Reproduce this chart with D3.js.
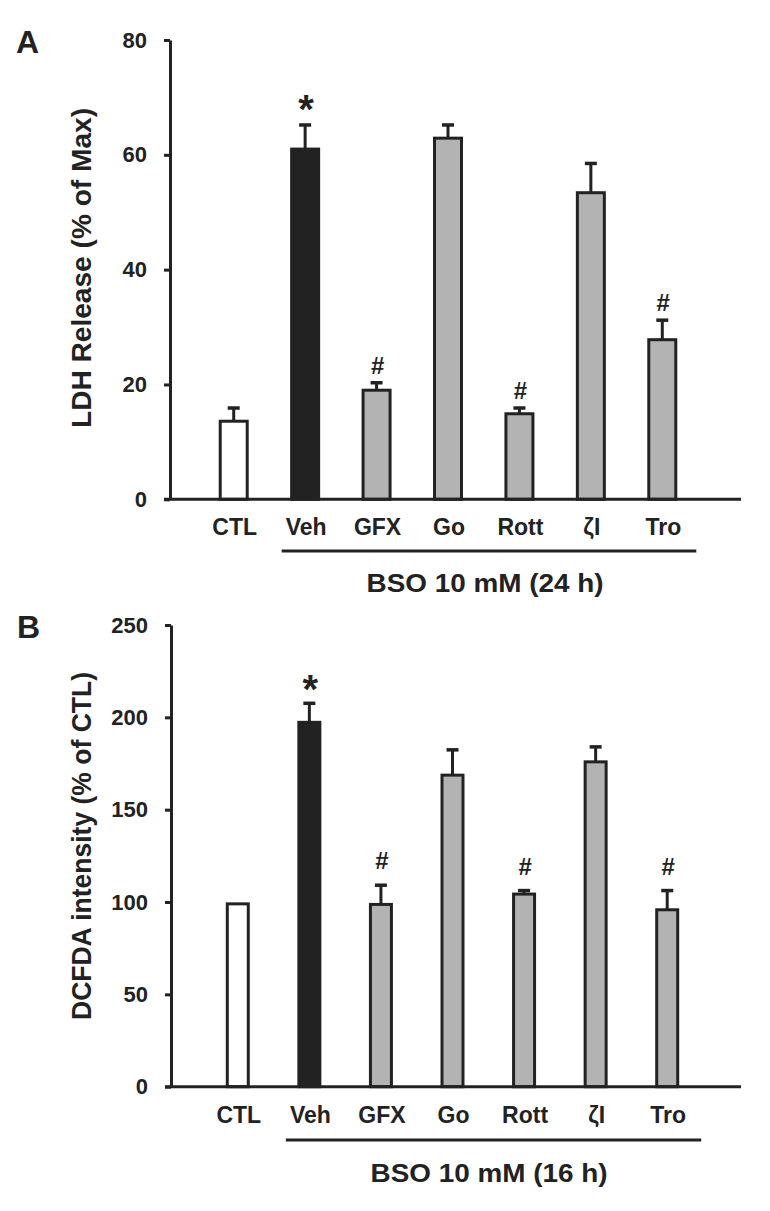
<!DOCTYPE html>
<html>
<head>
<meta charset="utf-8">
<script src="https://cdn.jsdelivr.net/npm/d3@7"></script>
<style>
    body { margin: 0; background: #fff; }
    svg { display: block; }
    text { font-family: "Liberation Sans", Arial, Helvetica, sans-serif; font-weight: bold; fill: #222; }
</style>
</head>
<body>
<div id="chart"></div>
<script>
/* === BSO panels: LDH release (A) and DCFDA intensity (B) === */

var categories = ['CTL', 'Veh', 'GFX', 'Go', 'Rott', 'ζI', 'Tro'];

// Panel A: LDH release, % of max
var ldhMean = [13.6, 61.0, 19.0, 62.9, 14.9, 53.4, 27.8];
var ldhErr = [2.3, 4.2, 1.3, 2.3, 1.0, 5.1, 3.4];
var ldhMarks = ['', '*', '#', '', '#', '', '#'];
var ldhTicks = [0, 20, 40, 60, 80];

// Panel B: DCFDA intensity, % of CTL
var dcfMean = [99, 197.3, 98.7, 168.7, 104.3, 175.9, 95.8];
var dcfErr = [0, 10.3, 10.4, 13.7, 1.9, 8.1, 10.4];
var dcfMarks = ['', '*', '#', '', '#', '', '#'];
var dcfTicks = [0, 50, 100, 150, 200, 250];

var INK = '#222';

function barFill(cat) {
    if (cat === 'CTL') return '#ffffff';
    if (cat === 'Veh') return '#222222';
    return '#b3b3b3';
}

var svg = d3.select('#chart')
    .append('svg')
    .attr('width', 770)
    .attr('height', 1211);

function drawPanel(cfg) {
    var g = svg.append('g');

    var y = d3.scaleLinear()
        .domain([0, cfg.ticks[cfg.ticks.length - 1]])
        .range([cfg.y0, cfg.yTop]);

    var x = d3.scaleBand()
        .domain(categories)
        .range(cfg.xRange);

    function cx(d) { return x(d) + x.bandwidth() / 2; }

    var rows = categories.map(function(c, i) {
        return { cat: c, mean: cfg.mean[i], err: cfg.err[i], mark: cfg.marks[i] };
    });

    // Bars
    g.selectAll('rect.bar')
        .data(rows)
        .join('rect')
        .attr('class', 'bar')
        .attr('x', function(d) { return cx(d.cat) - cfg.barW / 2; })
        .attr('y', function(d) { return y(d.mean); })
        .attr('width', cfg.barW)
        .attr('height', function(d) { return y(0) - y(d.mean); })
        .attr('fill', function(d) { return barFill(d.cat); })
        .attr('stroke', INK)
        .attr('stroke-width', 3);

    // Error bars (upper only)
    var eb = g.selectAll('g.err')
        .data(rows.filter(function(d) { return d.err > 0; }))
        .join('g')
        .attr('class', 'err');
    eb.append('line')
        .attr('x1', function(d) { return cx(d.cat); })
        .attr('x2', function(d) { return cx(d.cat); })
        .attr('y1', function(d) { return y(d.mean); })
        .attr('y2', function(d) { return y(d.mean + d.err); })
        .attr('stroke', INK)
        .attr('stroke-width', 3);
    eb.append('line')
        .attr('x1', function(d) { return cx(d.cat) - 6; })
        .attr('x2', function(d) { return cx(d.cat) + 6; })
        .attr('y1', function(d) { return y(d.mean + d.err); })
        .attr('y2', function(d) { return y(d.mean + d.err); })
        .attr('stroke', INK)
        .attr('stroke-width', 3.5);

    // Significance marks
    g.selectAll('text.mark')
        .data(rows.filter(function(d) { return d.mark; }))
        .join('text')
        .attr('class', 'mark')
        .attr('text-anchor', 'middle')
        .attr('x', function(d) { return cx(d.cat) + 1; })
        .attr('y', function(d) {
            var top = y(d.mean + d.err);
            return d.mark === '*' ? top + cfg.starOff : top - cfg.hashOff;
        })
        .style('font-size', function(d) { return d.mark === '*' ? '40px' : '24px'; })
        .text(function(d) { return d.mark; });

    // Y axis
    var yAxis = g.append('g')
        .attr('transform', 'translate(' + cfg.axisX + ',0)')
        .call(d3.axisLeft(y).tickValues(cfg.ticks).tickSize(6).tickSizeOuter(0).tickPadding(17));
    yAxis.select('.domain').attr('stroke', INK).attr('stroke-width', 3);
    yAxis.selectAll('.tick line').attr('stroke', INK).attr('stroke-width', 3);
    yAxis.selectAll('.tick text')
        .style('font-size', '22px')
        .attr('fill', INK);
    yAxis.attr('font-family', null).attr('font-size', null);

    // X axis line
    g.append('line')
        .attr('x1', cfg.axisX - 6)
        .attr('x2', cfg.xEnd)
        .attr('y1', y(0))
        .attr('y2', y(0))
        .attr('stroke', INK)
        .attr('stroke-width', 3);

    // Category labels
    var xAxis = g.append('g')
        .attr('transform', 'translate(1,' + y(0) + ')')
        .call(d3.axisBottom(x).tickSize(0).tickPadding(cfg.labelPad));
    xAxis.select('.domain').remove();
    xAxis.attr('font-family', null).attr('font-size', null);
    xAxis.selectAll('.tick text')
        .style('font-size', '23px')
        .attr('fill', INK);

    // Treatment bracket and caption
    g.append('line')
        .attr('x1', cx('Veh') - 23.5)
        .attr('x2', cx('Tro') + 34)
        .attr('y1', cfg.bracketY)
        .attr('y2', cfg.bracketY)
        .attr('stroke', INK)
        .attr('stroke-width', 3);
    g.append('text')
        .attr('x', cfg.capX)
        .attr('y', cfg.capY)
        .attr('text-anchor', 'middle')
        .attr('textLength', 237)
        .attr('lengthAdjust', 'spacingAndGlyphs')
        .style('font-size', '26px')
        .text(cfg.caption);

    // Y title
    g.append('text')
        .attr('transform', 'translate(' + cfg.titleX + ',' + cfg.titleY + ') rotate(-90)')
        .attr('text-anchor', 'middle')
        .attr('textLength', cfg.titleLen)
        .attr('lengthAdjust', 'spacingAndGlyphs')
        .style('font-size', '27px')
        .text(cfg.title);

    // Panel letter
    g.append('text')
        .attr('x', cfg.letterX)
        .attr('y', cfg.letterY)
        .style('font-size', '32px')
        .text(cfg.letter);
}

drawPanel({
    letter: 'A', letterX: 16, letterY: 53,
    mean: ldhMean, err: ldhErr, marks: ldhMarks, ticks: ldhTicks,
    y0: 499.3, yTop: 40, axisX: 170, xEnd: 741,
    xRange: [198, 698], barW: 27,
    starOff: -2, hashOff: 9,
    labelPad: 19,
    bracketY: 551, capX: 485, capY: 591.5,
    caption: 'BSO 10 mM (24 h)',
    title: 'LDH Release (% of Max)', titleX: 91, titleY: 268, titleLen: 320
});

drawPanel({
    letter: 'B', letterX: 17, letterY: 638,
    mean: dcfMean, err: dcfErr, marks: dcfMarks, ticks: dcfTicks,
    y0: 1086.7, yTop: 625, axisX: 171, xEnd: 741,
    xRange: [202, 703], barW: 21,
    starOff: 0, hashOff: 16,
    labelPad: 20,
    bracketY: 1140, capX: 489, capY: 1181.5,
    caption: 'BSO 10 mM (16 h)',
    title: 'DCFDA intensity (% of CTL)', titleX: 91, titleY: 846, titleLen: 348
});
</script>
</body>
</html>
